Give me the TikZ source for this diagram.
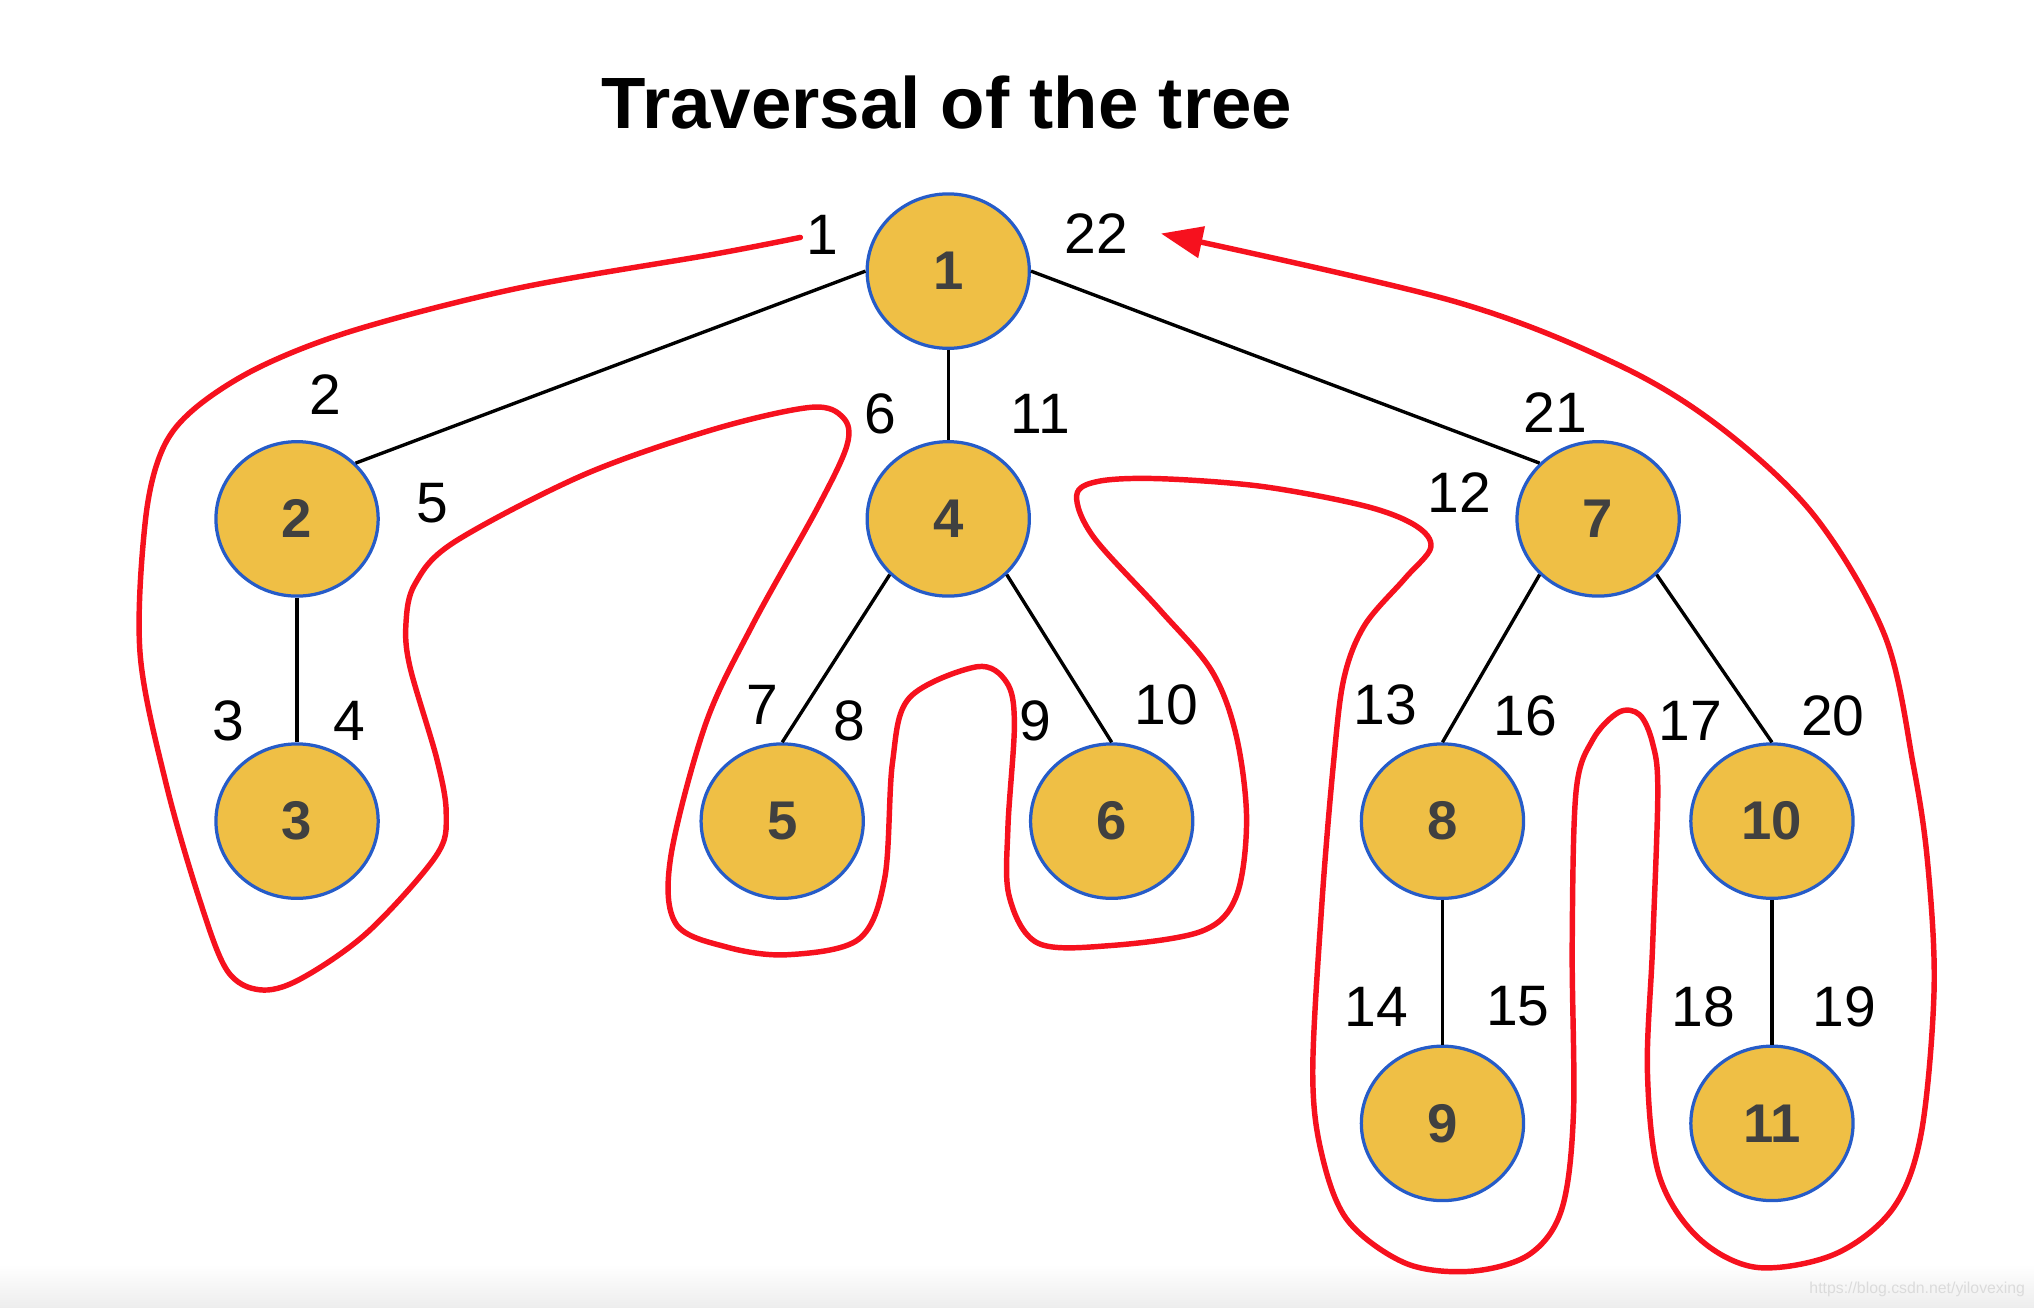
\documentclass[tikz,border=0pt]{standalone}
\usepackage{fontspec}
\setmainfont{Liberation Sans}
\usetikzlibrary{shapes.geometric,arrows.meta}

\definecolor{nodefill}{RGB}{239,191,69}
\definecolor{nodeline}{RGB}{38,92,200}
\definecolor{walkred}{RGB}{246,17,30}
\definecolor{keygray}{RGB}{64,64,64}

\tikzset{
  tnode/.style={ellipse, draw=nodeline, fill=nodefill, line width=0.025cm,
    minimum width=1.25cm, minimum height=1.19cm, inner sep=0pt,
    text=keygray, font=\fontsize{11.95}{12}\selectfont\bfseries},
  num/.style={inner sep=0pt, font=\fontsize{12.5}{13}\selectfont},
  branch/.style={line width=0.026cm},
  walk/.style={walkred, line width=0.042cm, line cap=round, line join=round},
}

\begin{document}
\begin{tikzpicture}[x=0.01cm, y=-0.01cm]
\useasboundingbox (0,0) rectangle (1568,1008);
\shade[top color=white, bottom color=black!7] (0,975) rectangle (1568,1008);
\node[text=black!14, inner sep=0pt, font=\fontsize{3.47}{4}\selectfont] (mark) at (1478,994) {https://blog.csdn.net/yilovexing};

\node[anchor=base, inner sep=0pt, font=\fontsize{15.93}{16}\selectfont\bfseries] (title) at (730,98.9) {Traversal of the tree};

% tree
\node[tnode] (n1)  at (731,209) {1};
\node[tnode] (n2)  at (229,400) {2};
\node[tnode] (n4)  at (731,400) {4};
\node[tnode] (n7)  at (1232,400) {7};
\node[tnode] (n3)  at (229,633) {3};
\node[tnode] (n5)  at (603,633) {5};
\node[tnode] (n6)  at (857,633) {6};
\node[tnode] (n8)  at (1112,633) {8};
\node[tnode] (n10) at (1366,633) {10};
\node[tnode] (n9)  at (1112,866) {9};
\node[tnode] (n11) at (1366,866) {11};

\draw[branch] (n1.west) -- (n2.north east);
\draw[branch] (n1) -- (n4);
\draw[branch] (n1.east) -- (n7.north west);
\draw[branch] (n2) -- (n3);
\draw[branch] (n4.south west) -- (n5.north);
\draw[branch] (n4.south east) -- (n6.north);
\draw[branch] (n7.south west) -- (n8.north);
\draw[branch] (n7.south east) -- (n10.north);
\draw[branch] (n8) -- (n9);
\draw[branch] (n10) -- (n11);

% step numbers
\node[num] (s1)  at (634,181) {1};
\node[num] (s2)  at (251,304) {2};
\node[num] (s3)  at (176,556) {3};
\node[num] (s4)  at (269,556) {4};
\node[num] (s5)  at (333,388) {5};
\node[num] (s6)  at (679,319) {6};
\node[num] (s7)  at (588,543) {7};
\node[num] (s8)  at (655,556) {8};
\node[num] (s9)  at (798,556) {9};
\node[num] (s10) at (899,543) {10};
\node[num] (s11) at (802,319) {11};
\node[num] (s12) at (1125,380) {12};
\node[num] (s13) at (1068,543) {13};
\node[num] (s14) at (1061,776) {14};
\node[num] (s15) at (1170,776) {15};
\node[num] (s16) at (1176,552) {16};
\node[num] (s17) at (1303,556) {17};
\node[num] (s18) at (1313,776) {18};
\node[num] (s19) at (1422,776) {19};
\node[num] (s20) at (1413,552) {20};
\node[num] (s21) at (1199,318) {21};
\node[num] (s22) at (845,180) {22};

% the walk round the tree
\draw[walk, -{Triangle[length=0.32cm, width=0.24cm]}] plot[smooth, tension=0.55] coordinates {
  (617,183) (550,196) (400,222) (275,254) (200,283) (150,315) (125,347) (112,402)
  (108,504) (128,604) (154,694) (175,748) (200,763) (231,755) (283,719) (336,660)
  (344,628) (337,586) (316,514) (313,480) (320,450) (350,418) (450,366) (550,331)
  (625,314) (650,322) (653,343) (631,390) (580,482) (544,558) (517,661) (521,712)
  (560,730) (607,736) (662,724) (682,677) (688,588) (701,538) (753,514) (776,526)
  (782,558) (777,638) (778,691) (800,727) (855,729) (926,718) (953,691) (961,632)
  (953,567) (934,517) (894,470) (843,414) (830,382) (847,371) (894,369) (973,375)
  (1052,390) (1091,405) (1103,422) (1083,446) (1052,482) (1036,523) (1028,588)
  (1019,697) (1012,826) (1019,890) (1039,941) (1084,974) (1134,980) (1179,967)
  (1204,932) (1213,858) (1212,729) (1215,610) (1228,570) (1248,549) (1264,551)
  (1274,573) (1278,610) (1274,729) (1270,826) (1279,906) (1309,954) (1354,977)
  (1414,967) (1459,932) (1481,874) (1491,762) (1486,665) (1475,590) (1453,490)
  (1399,398) (1327,330) (1247,281) (1120,232) (895,180)};
\end{tikzpicture}
\end{document}
